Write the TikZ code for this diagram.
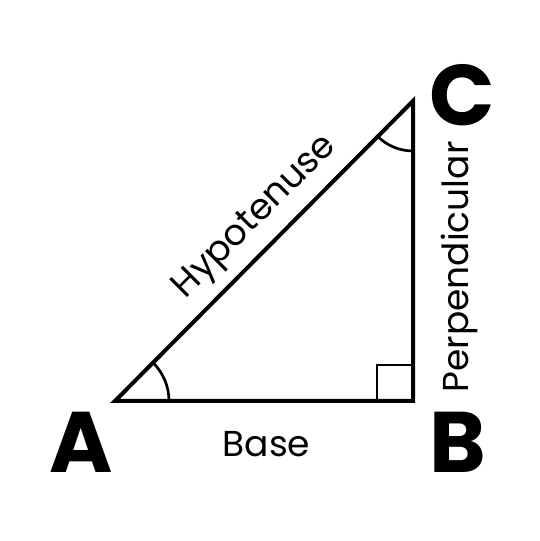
\documentclass[tikz,border=0pt]{standalone}
\usepackage{fontspec}
\usetikzlibrary{calc}
\setmainfont{Poppins}
\begin{document}
\begin{tikzpicture}[x=1pt,y=1pt,
  side/.style={line width=4pt, line join=miter},
  anglemark/.style={line width=2.7pt},
  vlabel/.style={font=\fontsize{86}{86}\selectfont\bfseries, inner sep=0pt, anchor=base},
  slabel/.style={font=\fontsize{36}{36}\selectfont, inner sep=0pt, anchor=base}]
\useasboundingbox (0,0) rectangle (540,541);
\coordinate (A) at (115,140);
\coordinate (B) at (413,140);
\coordinate (C) at (413,440);
\draw[side] (A) -- (B) -- (C) -- cycle;
\draw[anglemark] ($(A)+(54,0)$) arc[start angle=0, end angle=45, radius=54];
\draw[anglemark] ($(C)+(225:50)$) arc[start angle=225, end angle=270, radius=50];
\draw[anglemark] ($(B)+(-36,0)$) -- ++(0,36) -- ++(36,0);
\node[vlabel] (la) at (81,68) {A};
\node[vlabel] (lb) at (458,68) {B};
\node[vlabel] (lc) at (462,415) {C};
\node[slabel] (base) at (266.5,84) {Base};
\node[slabel, rotate=90] (perp) at (468,274) {Perpendicular};
\node[slabel, rotate=45] (hyp) at (261.5,317.7) {Hypotenuse};
\end{tikzpicture}
\end{document}
